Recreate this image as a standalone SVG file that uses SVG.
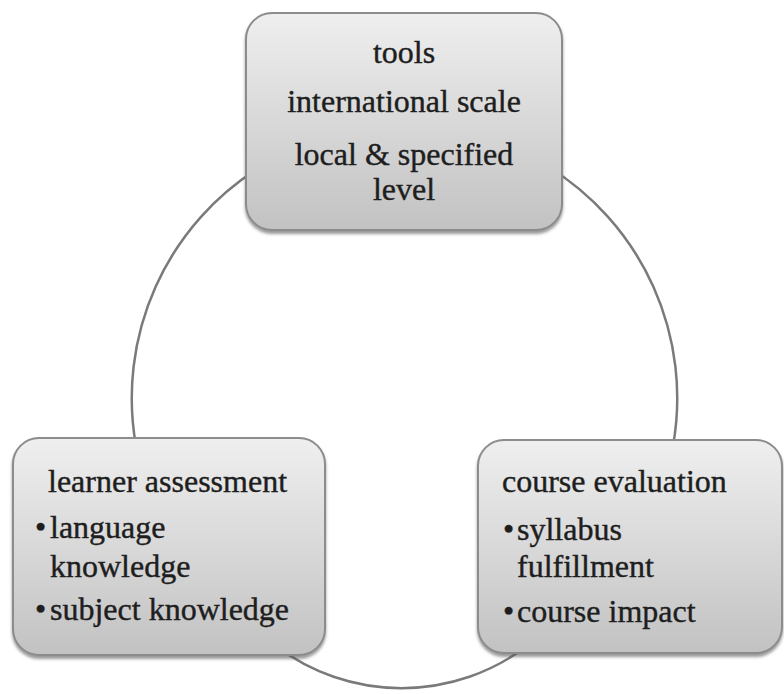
<svg xmlns="http://www.w3.org/2000/svg" width="784" height="694" viewBox="0 0 784 694">
  <style>
    .box { fill: url(#boxFill); stroke: #8c8c8c; stroke-width: 2; filter: url(#drop); }
    .lbl { font-size: 32px; fill: #1e1e1e; stroke: #1e1e1e; stroke-width: 0.4; }
    .mid { text-anchor: middle; }
    .link { fill: none; stroke: #7a7a7a; stroke-width: 2.5; }
  </style>
  <defs>
    <linearGradient id="boxFill" x1="0" y1="0" x2="0" y2="1">
      <stop offset="0" stop-color="#efefef"/>
      <stop offset="1" stop-color="#c2c2c2"/>
    </linearGradient>
    <filter id="drop" x="-5%" y="-5%" width="110%" height="115%">
      <feDropShadow dx="0" dy="3" stdDeviation="1.5" flood-color="#555" flood-opacity="0.6"/>
    </filter>
  </defs>
  <rect width="784" height="694" fill="#ffffff"/>

  <g id="connectors">
    <path class="link" d="M262,166 A272,272 0 0 0 136,446"/>
    <path class="link" d="M547,166 A272,272 0 0 1 673,446"/>
    <path class="link" d="M276,646 A208,208 0 0 0 527,646"/>
  </g>

  <g font-family="Liberation Serif, DejaVu Serif, Times New Roman, serif">
    <g id="tools">
      <rect class="box" x="246" y="13" width="316" height="217" rx="26"/>
      <text class="lbl mid" x="404" y="63">tools</text>
      <text class="lbl mid" x="404" y="112">international scale</text>
      <text class="lbl mid" x="404" y="165">local &amp; specified</text>
      <text class="lbl mid" x="404" y="200">level</text>
    </g>

    <g id="learner-assessment">
      <rect class="box" x="13" y="438" width="312" height="217" rx="26"/>
      <text class="lbl" x="48" y="492">learner assessment</text>
      <text class="lbl" x="35" y="538">•</text>
      <text class="lbl" x="50" y="538">language</text>
      <text class="lbl" x="50" y="577">knowledge</text>
      <text class="lbl" x="35" y="620">•</text>
      <text class="lbl" x="50" y="620">subject knowledge</text>
    </g>

    <g id="course-evaluation">
      <rect class="box" x="478" y="440" width="304" height="213" rx="26"/>
      <text class="lbl" x="502" y="492">course evaluation</text>
      <text class="lbl" x="503" y="540">•</text>
      <text class="lbl" x="517" y="540">syllabus</text>
      <text class="lbl" x="517" y="577">fulfillment</text>
      <text class="lbl" x="503" y="622">•</text>
      <text class="lbl" x="517" y="622">course impact</text>
    </g>
  </g>
</svg>
